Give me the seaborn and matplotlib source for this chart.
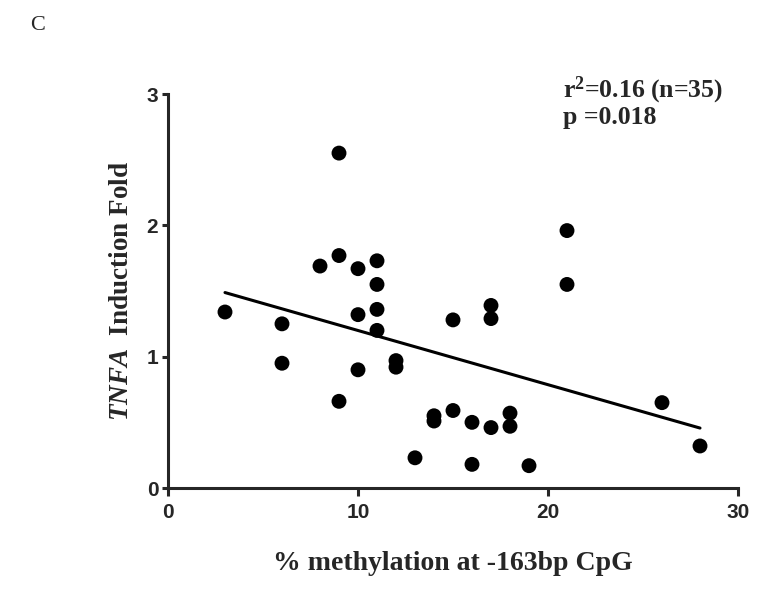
import pandas as pd
import matplotlib
matplotlib.use("Agg")
import matplotlib.pyplot as plt
import seaborn as sns

# --- data ---
methylation = [3, 6, 6, 8, 9, 9, 9, 10, 10, 10, 11, 11, 11, 11, 12, 12, 13,
               14, 14, 15, 15, 16, 16, 17, 17, 17, 18, 18, 19, 21, 21, 26, 28]
induction = [1.34, 1.25, 0.95, 1.69, 2.55, 1.77, 0.66, 1.67, 1.32, 0.90,
             1.73, 1.55, 1.36, 1.20, 0.97, 0.92, 0.23, 0.55, 0.51, 1.28,
             0.59, 0.50, 0.18, 1.39, 1.29, 0.46, 0.57, 0.47, 0.17, 1.96,
             1.55, 0.65, 0.32]
x_ticks = [0, 10, 20, 30]
y_ticks = [0, 1, 2, 3]

df = pd.DataFrame({"meth": methylation, "fold": induction})

sns.set_style("ticks")
plt.rcParams["font.family"] = ["Liberation Sans", "DejaVu Sans"]
plt.rcParams["mathtext.fontset"] = "custom"
plt.rcParams["mathtext.rm"] = "Liberation Serif:bold"
plt.rcParams["mathtext.it"] = "Liberation Serif:italic:bold"
plt.rcParams["mathtext.bf"] = "Liberation Serif:bold"

fig = plt.figure(figsize=(7.72, 5.92), dpi=100)
ax = fig.add_axes([168 / 772, 1 - 488 / 592, 570 / 772, 394 / 592])

sns.regplot(data=df, x="meth", y="fold", ax=ax, ci=None, truncate=True,
            color="black",
            scatter_kws={"s": 115, "edgecolor": "none", "alpha": 1},
            line_kws={"linewidth": 2.2})

ax.set_xlim(0, 30)
ax.set_ylim(0, 3)
ax.set_xticks(x_ticks)
ax.set_yticks(y_ticks)
sns.despine(ax=ax)
for s in ["left", "bottom"]:
    ax.spines[s].set_linewidth(2.2)
ax.tick_params(width=2.2, labelsize=15)
ax.tick_params(axis="x", length=6, pad=5)
ax.tick_params(axis="y", length=4, pad=3)
for lab in ax.get_xticklabels() + ax.get_yticklabels():
    lab.set_fontweight("bold")

serif = ["Liberation Serif", "DejaVu Serif"]
ax.set_xlabel("% methylation at -163bp CpG", family=serif, fontweight="bold",
              fontsize=20, labelpad=21)
ax.set_ylabel(r"$\it{TNFA}$  Induction Fold", family=serif, fontweight="bold",
              fontsize=19.5, labelpad=9)

ax.text(0.693, 1.01, r"r$^{\mathbf{2}}$=0.16 (n=35)", transform=ax.transAxes,
        family=serif, fontweight="bold", fontsize=18.5, va="center")
ax.text(0.693, 0.94, "p =0.018", transform=ax.transAxes,
        family=serif, fontweight="bold", fontsize=18.5, va="center")

fig.text(30 / 772, 1 - 25 / 592, "C", family=serif, fontsize=16, va="center")

fig.savefig("out.png", dpi=100)
